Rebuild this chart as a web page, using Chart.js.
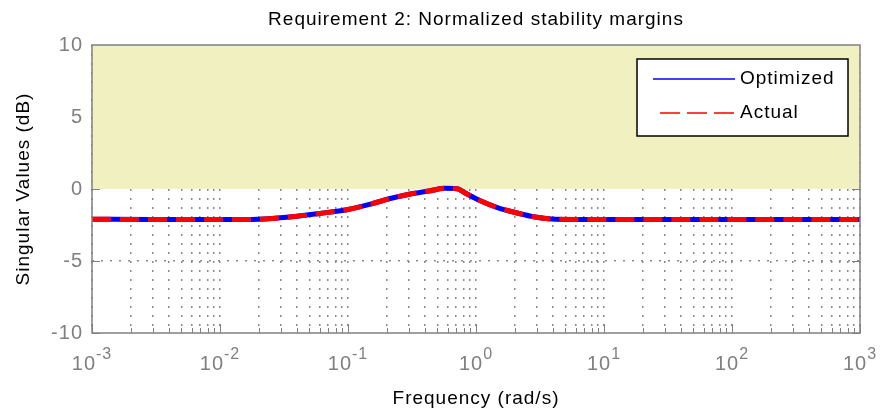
<!DOCTYPE html>
<html>
<head>
<meta charset="utf-8">
<script src="https://cdn.jsdelivr.net/npm/chart.js@4/dist/chart.umd.min.js"></script>
<style>
  html, body { margin: 0; padding: 0; background: #fff; }
</style>
</head>
<body>
<canvas id="chart" width="889" height="412"></canvas>
<script>
// singular values (rad/s, dB)
const freq = [0.001, 0.003, 0.01, 0.02, 0.035, 0.06, 0.1, 0.15, 0.21, 0.3, 0.44, 0.57, 0.71, 0.85, 1.07, 1.45, 2.1, 2.9, 4.2, 10, 100, 1000];
const optimized = [-2.1, -2.12, -2.12, -2.1, -1.95, -1.7, -1.42, -1.05, -0.68, -0.36, -0.12, 0.05, 0.02, -0.35, -0.8, -1.27, -1.67, -1.95, -2.1, -2.12, -2.12, -2.12];
const actual = [-2.1, -2.12, -2.12, -2.1, -1.95, -1.7, -1.42, -1.05, -0.68, -0.36, -0.12, 0.05, 0.02, -0.35, -0.8, -1.27, -1.67, -1.95, -2.1, -2.12, -2.12, -2.12];
const seriesNames = ['Optimized', 'Actual'];

// shaded region = violated requirement (0 dB .. top of axis)
const boundLow = 0;
const boundHigh = 10;

const yTickValues = [-10, -5, 0, 5, 10];
const xDecades = [-3, -2, -1, 0, 1, 2, 3];

const FONT = '"Liberation Sans", Arial, Helvetica, sans-serif';
const GRAY = '#808080';

// log grid: 1..9 x 10^d plus the last decade
const xGridValues = [];
xDecades.forEach((d, i) => {
    if (i === xDecades.length - 1) { xGridValues.push({ value: Math.pow(10, d), major: true }); return; }
    for (let k = 1; k <= 9; k++) xGridValues.push({ value: k * Math.pow(10, d), major: k === 1 });
});

const toPoints = (xs, ys) => xs.map((f, i) => ({ x: f, y: ys[i] }));

const framePlugin = {
    id: 'frame',
    beforeUpdate(chart) { chart.ctx.letterSpacing = '1px'; },
    beforeDraw(chart) { chart.ctx.letterSpacing = '1px'; },
    beforeDatasetsDraw(chart) {
        // inner tick marks, the shaded bound covers the ones inside it
        const { ctx, chartArea: a, scales: { x, y } } = chart;
        ctx.save();
        ctx.strokeStyle = GRAY;
        ctx.lineWidth = 1;
        ctx.beginPath();
        x.ticks.forEach(t => {
            const px = Math.round(x.getPixelForValue(t.value)) + 0.5;
            ctx.moveTo(px, a.bottom);
            ctx.lineTo(px, a.bottom - (t.major ? 9 : 5));
        });
        yTickValues.forEach(v => {
            const py = Math.round(y.getPixelForValue(v)) + 0.5;
            ctx.moveTo(a.left, py); ctx.lineTo(a.left + 8, py);
            ctx.moveTo(a.right, py); ctx.lineTo(a.right - 8, py);
        });
        ctx.stroke();
        ctx.restore();
    },
    afterDatasetsDraw(chart) {
        const { ctx, chartArea: a } = chart;
        ctx.save();
        // axes box
        ctx.strokeStyle = GRAY;
        ctx.lineWidth = 1.5;
        ctx.strokeRect(a.left, a.top, a.right - a.left, a.bottom - a.top);

        // legend
        const bx = a.right - 223, by = a.top + 14, bw = 211, bh = 77;
        ctx.fillStyle = '#fff';
        ctx.fillRect(bx, by, bw, bh);
        ctx.strokeStyle = '#000';
        ctx.lineWidth = 1.5;
        ctx.strokeRect(bx, by, bw, bh);
        ctx.letterSpacing = '1px';
        ctx.font = '19px ' + FONT;
        ctx.textBaseline = 'middle';
        ctx.textAlign = 'left';
        const rows = [
            { ds: chart.data.datasets[1], y: by + 20, dash: [], x0: bx + 16 },
            { ds: chart.data.datasets[0], y: by + 54, dash: [20, 7], x0: bx + 23 }
        ];
        rows.forEach(r => {
            ctx.beginPath();
            ctx.setLineDash(r.dash);
            ctx.strokeStyle = r.ds.borderColor;
            ctx.lineWidth = 1.5;
            ctx.moveTo(r.x0, r.y);
            ctx.lineTo(bx + 98, r.y);
            ctx.stroke();
            ctx.setLineDash([]);
            ctx.fillStyle = '#000';
            ctx.fillText(r.ds.label, bx + 103, r.y);
        });
        ctx.restore();
    },
    afterDraw(chart) {
        // x tick labels as 10 with a raised exponent
        const { ctx, chartArea: a, scales: { x } } = chart;
        ctx.save();
        ctx.letterSpacing = '1px';
        ctx.fillStyle = GRAY;
        ctx.textBaseline = 'alphabetic';
        ctx.textAlign = 'left';
        xDecades.forEach(d => {
            const px = x.getPixelForValue(Math.pow(10, d));
            ctx.font = '20px ' + FONT;
            const wBase = ctx.measureText('10').width;
            ctx.font = '16px ' + FONT;
            const exp = String(d);
            const wExp = ctx.measureText(exp).width;
            const left = px - (wBase + wExp) / 2;
            ctx.font = '20px ' + FONT;
            ctx.fillText('10', left, a.bottom + 37);
            ctx.font = '16px ' + FONT;
            ctx.fillText(exp, left + wBase, a.bottom + 26);
        });
        ctx.restore();
    }
};

const ctx = document.getElementById('chart').getContext('2d');
new Chart(ctx, {
    type: 'line',
    data: {
        datasets: [
            {
                label: seriesNames[1],
                data: toPoints(freq, actual),
                borderColor: '#ff0000',
                borderWidth: 5,
                borderDash: [19, 9],
                borderCapStyle: 'butt',
                pointRadius: 0,
                cubicInterpolationMode: 'monotone',
                fill: false,
                order: 1
            },
            {
                label: seriesNames[0],
                data: toPoints(freq, optimized),
                borderColor: '#0000ff',
                borderWidth: 5,
                pointRadius: 0,
                cubicInterpolationMode: 'monotone',
                fill: false,
                order: 2
            },
            {
                label: 'bound',
                data: [{ x: freq[0], y: boundHigh }, { x: freq[freq.length - 1], y: boundHigh }],
                borderWidth: 0,
                pointRadius: 0,
                backgroundColor: 'rgb(240,240,192)',
                fill: { value: boundLow },
                order: 3
            }
        ]
    },
    options: {
        responsive: false,
        animation: false,
        devicePixelRatio: 1,
        layout: { padding: { left: 0, right: 29, top: 0, bottom: 0 } },
        plugins: {
            legend: { display: false },
            tooltip: { enabled: false },
            title: {
                display: true,
                fullSize: false,
                text: 'Requirement 2: Normalized stability margins',
                color: '#000',
                font: { size: 19, family: FONT, weight: 'normal' },
                padding: { top: 8, bottom: 14.2 }
            }
        },
        scales: {
            x: {
                type: 'logarithmic',
                min: 1e-3,
                max: 1e3,
                afterBuildTicks: s => { s.ticks = xGridValues.map(t => ({ value: t.value, major: t.major })); },
                afterFit: s => { s.height = 79; },
                ticks: { display: false, autoSkip: false },
                grid: { color: '#8a8a8a', lineWidth: 1.5, drawTicks: false },
                border: { display: false, dash: [2, 7] },
                title: {
                    display: true,
                    text: 'Frequency (rad/s)',
                    color: '#000',
                    font: { size: 19, family: FONT },
                    padding: { top: 0, bottom: 2 }
                }
            },
            y: {
                min: -10,
                max: 10,
                afterBuildTicks: s => { s.ticks = yTickValues.map(v => ({ value: v })); },
                afterFit: s => { s.width = 92; },
                ticks: {
                    color: GRAY,
                    padding: 9,
                    font: { size: 20, family: FONT },
                    callback: v => String(v)
                },
                grid: {
                    color: c => (c.tick && Math.abs(c.tick.value) === 5) ? '#8a8a8a' : 'rgba(0,0,0,0)',
                    lineWidth: 1.5,
                    drawTicks: false
                },
                border: { display: false, dash: [2, 7] },
                title: {
                    display: true,
                    text: 'Singular Values (dB)',
                    color: '#000',
                    font: { size: 19, family: FONT },
                    padding: { top: 12, bottom: 0 }
                }
            }
        }
    },
    plugins: [framePlugin]
});
</script>
</body>
</html>
